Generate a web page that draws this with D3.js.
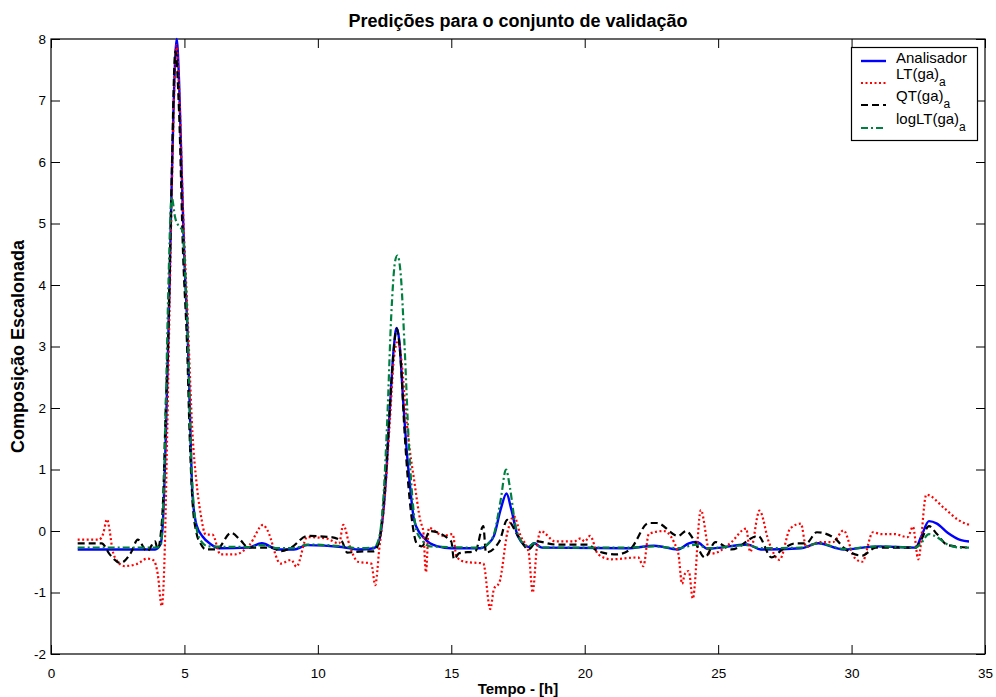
<!DOCTYPE html>
<html>
<head>
<meta charset="utf-8">
<script src="https://cdn.jsdelivr.net/npm/d3@7"></script>
<style>
	body { margin: 0; background: #fff; }
	svg { display: block; font-family: "Liberation Sans", Arial, sans-serif; }
</style>
</head>
<body>
<svg id="chart" width="996" height="697"></svg>
<script>

// series: [tempo, valor]
var analisador = [[1.0,-0.30],[3.9,-0.30],[4.1,-0.22],[4.2,0.2],[4.3,1.5],[4.4,3.2],[4.5,5.2],[4.6,7.0],[4.71,8.0],[4.8,7.3],[4.9,5.8],[5.0,4.4],[5.12,3.2],[5.2,2.0],[5.3,0.6],[5.45,0.1],[5.68,-0.09],[6.0,-0.22],[6.3,-0.28],[7.4,-0.27],[7.9,-0.2],[8.5,-0.3],[9.1,-0.3],[9.6,-0.23],[10.9,-0.26],[11.5,-0.3],[12.1,-0.28],[12.3,-0.15],[12.45,0.3],[12.55,0.84],[12.7,2.0],[12.85,3.0],[12.95,3.3],[13.05,3.1],[13.2,2.1],[13.35,1.2],[13.45,0.75],[13.6,0.19],[13.8,-0.02],[13.95,-0.1],[14.2,-0.2],[14.5,-0.25],[15.0,-0.28],[16.1,-0.28],[16.4,-0.2],[16.6,-0.08],[16.85,0.35],[17.07,0.61],[17.25,0.35],[17.5,-0.09],[17.9,-0.26],[18.1,-0.2],[18.4,-0.27],[21.6,-0.28],[22.6,-0.24],[23.5,-0.3],[23.9,-0.2],[24.2,-0.18],[24.6,-0.29],[26.1,-0.22],[26.6,-0.3],[28.1,-0.28],[28.75,-0.2],[29.7,-0.3],[31.0,-0.25],[32.4,-0.27],[32.6,-0.1],[32.9,0.16],[33.2,0.12],[33.6,-0.03],[34.1,-0.15],[34.4,-0.17]];

var ltGa = [[1.0,-0.14],[1.8,-0.14],[1.95,-0.05],[2.1,0.19],[2.2,0.0],[2.3,-0.3],[2.5,-0.5],[2.75,-0.57],[3.2,-0.54],[3.6,-0.45],[3.85,-0.48],[4.0,-0.7],[4.15,-1.22],[4.25,-0.5],[4.35,1.5],[4.45,3.8],[4.55,6.0],[4.7,7.9],[4.8,7.2],[4.95,5.2],[5.12,3.5],[5.3,1.6],[5.45,0.8],[5.6,0.3],[5.8,-0.06],[6.05,-0.06],[6.35,-0.38],[6.9,-0.38],[7.45,-0.22],[7.95,0.1],[8.1,0.02],[8.6,-0.53],[9.0,-0.47],[9.2,-0.58],[9.6,-0.1],[10.3,-0.12],[10.8,-0.2],[10.95,0.1],[11.2,-0.25],[11.5,-0.5],[12.0,-0.53],[12.15,-0.88],[12.3,-0.3],[12.5,0.5],[12.7,1.8],[12.85,2.8],[13.0,3.1],[13.15,2.7],[13.3,1.9],[13.45,1.3],[13.6,0.85],[13.85,0.15],[13.95,0.0],[14.05,-0.67],[14.16,0.05],[14.7,-0.08],[15.05,-0.05],[15.2,-0.42],[15.5,-0.5],[16.2,-0.53],[16.46,-1.27],[16.6,-0.94],[16.8,-0.84],[17.1,-0.03],[17.35,0.24],[17.6,-0.08],[17.9,-0.35],[18.05,-1.0],[18.2,-0.3],[18.35,0.0],[18.9,-0.17],[19.6,-0.17],[19.85,-0.12],[20.0,-0.17],[20.2,-0.08],[20.5,-0.38],[21.0,-0.46],[22.0,-0.43],[22.2,-0.57],[22.4,-0.05],[22.95,0.0],[23.5,-0.35],[23.65,-0.86],[23.75,-0.7],[23.9,-0.65],[24.05,-1.1],[24.35,0.34],[24.7,-0.37],[25.0,-0.34],[25.5,-0.18],[26.05,0.04],[26.2,-0.34],[26.55,0.33],[26.9,-0.18],[27.3,-0.47],[27.7,0.04],[28.1,0.12],[28.3,-0.26],[28.8,-0.18],[29.3,-0.18],[29.7,0.01],[30.1,-0.43],[30.4,-0.5],[30.8,-0.02],[31.1,-0.05],[31.6,-0.05],[32.1,-0.1],[32.3,0.07],[32.5,-0.46],[32.8,0.59],[33.5,0.36],[34.0,0.18],[34.4,0.1]];

var qtGa = [[1.0,-0.2],[1.9,-0.2],[2.2,-0.38],[2.6,-0.52],[3.0,-0.35],[3.25,-0.14],[3.6,-0.33],[3.9,-0.17],[4.0,-0.3],[4.1,-0.1],[4.2,0.5],[4.3,2.0],[4.4,3.3],[4.5,5.3],[4.66,7.8],[4.8,6.8],[4.95,4.5],[5.1,3.0],[5.2,1.5],[5.3,0.5],[5.45,-0.03],[5.6,-0.2],[5.8,-0.3],[6.2,-0.3],[6.75,-0.03],[7.1,-0.15],[7.4,-0.27],[8.3,-0.27],[8.6,-0.33],[9.0,-0.27],[9.6,-0.08],[10.5,-0.1],[10.9,-0.17],[11.1,-0.35],[11.7,-0.33],[12.1,-0.33],[12.3,-0.15],[12.45,0.4],[12.6,1.3],[12.75,2.4],[12.96,3.29],[13.1,2.8],[13.25,1.6],[13.4,0.7],[13.55,0.1],[13.7,-0.2],[13.9,-0.25],[14.2,0.0],[15.0,-0.17],[15.1,-0.46],[15.3,-0.36],[15.9,-0.33],[16.2,0.08],[16.3,-0.35],[16.8,-0.17],[17.1,0.18],[17.5,-0.08],[17.9,-0.3],[18.2,-0.17],[18.9,-0.22],[20.1,-0.22],[20.5,-0.33],[21.2,-0.38],[21.7,-0.3],[22.4,0.13],[22.7,0.13],[23.5,-0.08],[23.8,0.0],[24.1,-0.15],[24.5,-0.43],[24.9,-0.18],[25.5,-0.3],[26.5,-0.08],[27.0,-0.43],[27.4,-0.3],[27.9,-0.2],[28.3,-0.2],[28.7,-0.02],[29.4,-0.13],[29.7,-0.27],[30.4,-0.4],[30.9,-0.27],[32.4,-0.27],[32.6,-0.15],[32.9,0.08],[33.2,-0.05],[33.6,-0.23],[34.4,-0.27]];

var logLtGa = [[1.0,-0.27],[3.9,-0.27],[4.1,-0.25],[4.2,0.3],[4.3,2.0],[4.4,4.0],[4.52,5.43],[4.65,5.1],[4.8,4.95],[4.93,4.89],[5.05,4.0],[5.12,3.27],[5.25,1.2],[5.4,0.2],[5.6,-0.15],[5.9,-0.25],[7.4,-0.26],[7.9,-0.23],[8.5,-0.28],[9.1,-0.28],[9.6,-0.22],[10.9,-0.25],[11.5,-0.28],[12.1,-0.27],[12.3,-0.1],[12.45,0.5],[12.6,1.8],[12.75,3.5],[12.9,4.4],[12.98,4.48],[13.1,4.2],[13.25,3.0],[13.4,1.5],[13.55,0.5],[13.7,0.0],[13.9,-0.15],[14.2,-0.25],[16.1,-0.27],[16.4,-0.2],[16.6,-0.05],[16.85,0.5],[17.05,1.0],[17.2,0.7],[17.4,0.1],[17.6,-0.15],[17.9,-0.25],[18.1,-0.2],[18.4,-0.27],[21.6,-0.27],[22.6,-0.25],[23.5,-0.28],[24.2,-0.22],[24.6,-0.28],[26.1,-0.23],[26.6,-0.28],[28.1,-0.27],[28.75,-0.2],[29.7,-0.29],[31.0,-0.25],[32.4,-0.27],[32.6,-0.2],[32.9,-0.05],[33.2,-0.1],[33.6,-0.22],[34.1,-0.27],[34.4,-0.27]];

var xTicks = [0, 5, 10, 15, 20, 25, 30, 35];
var yTicks = [-2, -1, 0, 1, 2, 3, 4, 5, 6, 7, 8];
var seriesNames = ["Analisador", "LT(ga)", "QT(ga)", "logLT(ga)"];

(function () {

	var margin = { top: 39, right: 11, bottom: 43, left: 51 },
		width = 996 - margin.left - margin.right,
		height = 697 - margin.top - margin.bottom;

	var svg = d3.select("#chart");

	var x = d3.scaleLinear().domain([0, 35]).range([margin.left, margin.left + width]);
	var y = d3.scaleLinear().domain([-2, 8]).range([margin.top + height, margin.top]);

	var tk = 9;
	// plain hyphen for negatives, like the original
	var fmt = function (d) { return String(d); };

	// axes, matlab style: ticks inside, on all sides
	svg.append("g")
		.attr("transform", "translate(0," + (margin.top + height) + ")")
		.call(d3.axisBottom(x).tickValues(xTicks).tickSize(-tk).tickPadding(tk + 5).tickFormat(fmt))
		.call(function (g) { g.select(".domain").remove(); })
		.selectAll("text").style("font-size", "13.5px").attr("fill", "#000");

	svg.append("g")
		.attr("transform", "translate(0," + margin.top + ")")
		.call(d3.axisTop(x).tickValues(xTicks).tickSize(-tk).tickFormat(""))
		.call(function (g) { g.select(".domain").remove(); });

	svg.append("g")
		.attr("transform", "translate(" + margin.left + ",0)")
		.call(d3.axisLeft(y).tickValues(yTicks).tickSize(-tk).tickPadding(5).tickFormat(fmt))
		.call(function (g) { g.select(".domain").remove(); })
		.selectAll("text").style("font-size", "13.5px").attr("fill", "#000");

	svg.append("g")
		.attr("transform", "translate(" + (margin.left + width) + ",0)")
		.call(d3.axisRight(y).tickValues(yTicks).tickSize(-tk).tickFormat(""))
		.call(function (g) { g.select(".domain").remove(); });

	svg.selectAll(".tick line").attr("stroke", "#000");

	// frame
	svg.append("rect")
		.attr("x", margin.left)
		.attr("y", margin.top)
		.attr("width", width)
		.attr("height", height)
		.attr("fill", "none")
		.attr("stroke", "#000")
		.attr("stroke-width", 1.2);

	var line = d3.line()
		.x(function (d) { return x(d[0]); })
		.y(function (d) { return y(d[1]); })
		.curve(d3.curveMonotoneX);

	var styles = [
		{ data: analisador, color: "#0000ff", dash: null, w: 2.4 },
		{ data: ltGa, color: "#ff0000", dash: "2,2.5", w: 2.2 },
		{ data: qtGa, color: "#000000", dash: "7,4", w: 2.2 },
		{ data: logLtGa, color: "#008040", dash: "7,3,2,3", w: 2.2 }
	];

	styles.forEach(function (s) {
		svg.append("path")
			.datum(s.data)
			.attr("fill", "none")
			.attr("stroke", s.color)
			.attr("stroke-width", s.w)
			.attr("stroke-dasharray", s.dash)
			.attr("d", line);
	});

	// legend
	var lg = svg.append("g");
	lg.append("rect")
		.attr("x", 851.5).attr("y", 47.5)
		.attr("width", 126).attr("height", 93)
		.attr("fill", "#fff").attr("stroke", "#000").attr("stroke-width", 1.2);

	var rowY = [61, 83, 105, 128];
	styles.forEach(function (s, i) {
		lg.append("line")
			.attr("x1", 861).attr("x2", 886)
			.attr("y1", rowY[i]).attr("y2", rowY[i])
			.attr("stroke", s.color)
			.attr("stroke-width", s.w)
			.attr("stroke-dasharray", s.dash);
		var t = lg.append("text")
			.attr("x", 896)
			.attr("y", i == 0 ? rowY[i] + 2 : rowY[i] - 4)
			.style("font-size", "15px")
			.text(seriesNames[i]);
		if (i > 0) {
			t.append("tspan")
				.attr("dy", 7)
				.style("font-size", "12px")
				.text("a");
		}
	});

	// titles
	svg.append("text")
		.attr("x", 518).attr("y", 27)
		.attr("text-anchor", "middle")
		.style("font-size", "18px").style("font-weight", "bold")
		.text("Predições para o conjunto de validação");

	svg.append("text")
		.attr("x", 518).attr("y", 694)
		.attr("text-anchor", "middle")
		.style("font-size", "15px").style("font-weight", "bold")
		.text("Tempo - [h]");

	svg.append("text")
		.attr("transform", "translate(24," + (margin.top + height / 2) + ") rotate(-90)")
		.attr("text-anchor", "middle")
		.style("font-size", "18px").style("font-weight", "bold")
		.text("Composição Escalonada");

})();
</script>
</body>
</html>
